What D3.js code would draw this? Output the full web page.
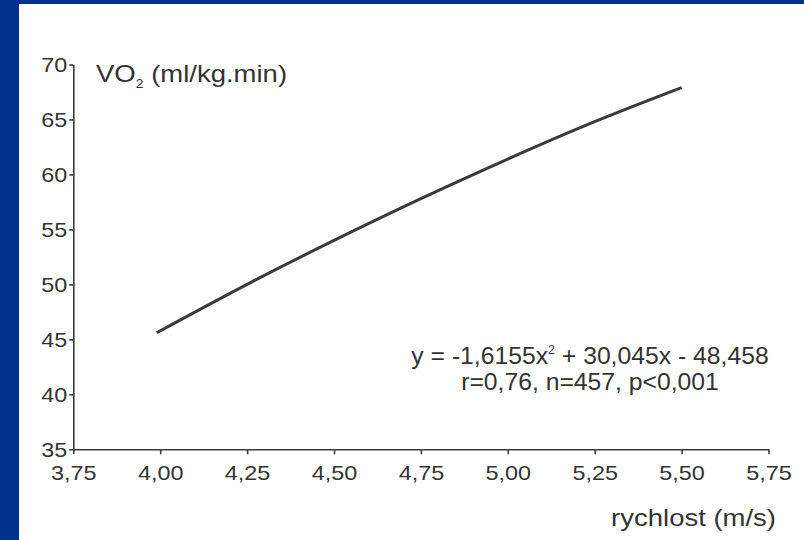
<!DOCTYPE html>
<html>
<head>
<meta charset="utf-8">
<script src="https://cdn.jsdelivr.net/npm/d3@7"></script>
<style>
  html, body { margin: 0; padding: 0; background: #ffffff; }
  svg { display: block; }
  text { font-family: "Liberation Sans", Arial, sans-serif; fill: #333333; }
</style>
</head>
<body>
<svg id="chart" width="804" height="540"></svg>
<script>
// Running speed (m/s) and VO2 (ml/kg.min) along the fitted curve
const speed = [3.99, 4.25, 4.50, 4.75, 5.00, 5.25, 5.50];
const vo2   = [45.6, 50.0, 54.0, 57.8, 61.4, 64.8, 67.9];

const xTicks = [3.75, 4.00, 4.25, 4.50, 4.75, 5.00, 5.25, 5.50, 5.75];
const yTicks = [35, 40, 45, 50, 55, 60, 65, 70];

const yTitle = "VO";
const yTitleSub = "2";
const yTitleRest = " (ml/kg.min)";
const xTitle = "rychlost (m/s)";
const eqParts = ["y = -1,6155x", "2", " + 30,045x - 48,458"];
const statsLine = "r=0,76, n=457, p<0,001";

const W = 804, H = 540;
const svg = d3.select("#chart");

// slide frame: blue band on the left and top
const frame = "#00318f";
svg.append("rect").attr("x", 0).attr("y", 0).attr("width", W).attr("height", H).attr("fill", "#ffffff");
svg.append("rect").attr("x", 0).attr("y", 0).attr("width", 19).attr("height", H).attr("fill", frame);
svg.append("rect").attr("x", 0).attr("y", 0).attr("width", W).attr("height", 4).attr("fill", frame);

const plot = { left: 73.3, right: 768.5, top: 64.5, bottom: 449.3 };
const stretch = 1.17;

const x = d3.scaleLinear().domain([3.75, 5.75]).range([plot.left, plot.right]);
const y = d3.scaleLinear().domain([35, 70]).range([plot.bottom, plot.top]);

const fmt = d => d3.format(".2f")(d).replace(".", ",");

// x axis
const gx = svg.append("g")
  .attr("transform", `translate(0,${plot.bottom})`)
  .call(d3.axisBottom(x).tickValues(xTicks).tickFormat(fmt).tickSizeInner(5).tickSizeOuter(0));
gx.select(".domain").attr("stroke", "#3c3c3c").attr("stroke-width", 1.6);
gx.selectAll(".tick line").attr("stroke", "#3c3c3c").attr("stroke-width", 1.6);
gx.selectAll(".tick text")
  .attr("y", 17).attr("dy", "0.71em")
  .attr("font-size", 20).attr("fill", "#333")
  .attr("font-family", "Liberation Sans, Arial, sans-serif")
  .attr("transform", `scale(${stretch},1)`);

// y axis
const gy = svg.append("g")
  .attr("transform", `translate(${plot.left},0)`)
  .call(d3.axisLeft(y).tickValues(yTicks).tickFormat(d3.format("d")).tickSizeInner(4).tickSizeOuter(0));
gy.select(".domain").attr("stroke", "#3c3c3c").attr("stroke-width", 1.6);
gy.selectAll(".tick line").attr("stroke", "#3c3c3c").attr("stroke-width", 1.6);
gy.selectAll(".tick text")
  .attr("x", -6 / stretch).attr("dy", "0.36em")
  .attr("font-size", 20).attr("fill", "#333")
  .attr("font-family", "Liberation Sans, Arial, sans-serif")
  .attr("transform", `scale(${stretch},1)`);

// fitted curve
const line = d3.line()
  .x((d, i) => x(speed[i]))
  .y(d => y(d))
  .curve(d3.curveNatural);
svg.append("path")
  .datum(vo2)
  .attr("d", line)
  .attr("fill", "none")
  .attr("stroke", "#3a3a3a")
  .attr("stroke-width", 3)
  .attr("stroke-linecap", "butt");

// y axis title with subscript
const yt = svg.append("g").attr("transform", `translate(96,82) scale(${stretch},1)`)
  .append("text").attr("font-size", 23.5);
yt.append("tspan").text(yTitle);
yt.append("tspan").attr("font-size", 12).attr("dy", 6).text(yTitleSub);
yt.append("tspan").attr("dy", -6).text(yTitleRest);

// x axis title
svg.append("g").attr("transform", `translate(776,526) scale(${stretch},1)`)
  .append("text").attr("font-size", 23.5).attr("text-anchor", "end").text(xTitle);

// regression equation and statistics
const eq = svg.append("g").attr("transform", `translate(590,364) scale(1.03,1)`)
  .append("text").attr("font-size", 24).attr("text-anchor", "middle");
eq.append("tspan").text(eqParts[0]);
eq.append("tspan").attr("font-size", 12).attr("dy", -10).text(eqParts[1]);
eq.append("tspan").attr("dy", 10).text(eqParts[2]);

svg.append("g").attr("transform", `translate(590,390) scale(1.03,1)`)
  .append("text").attr("font-size", 24).attr("text-anchor", "middle").text(statsLine);
</script>
</body>
</html>
